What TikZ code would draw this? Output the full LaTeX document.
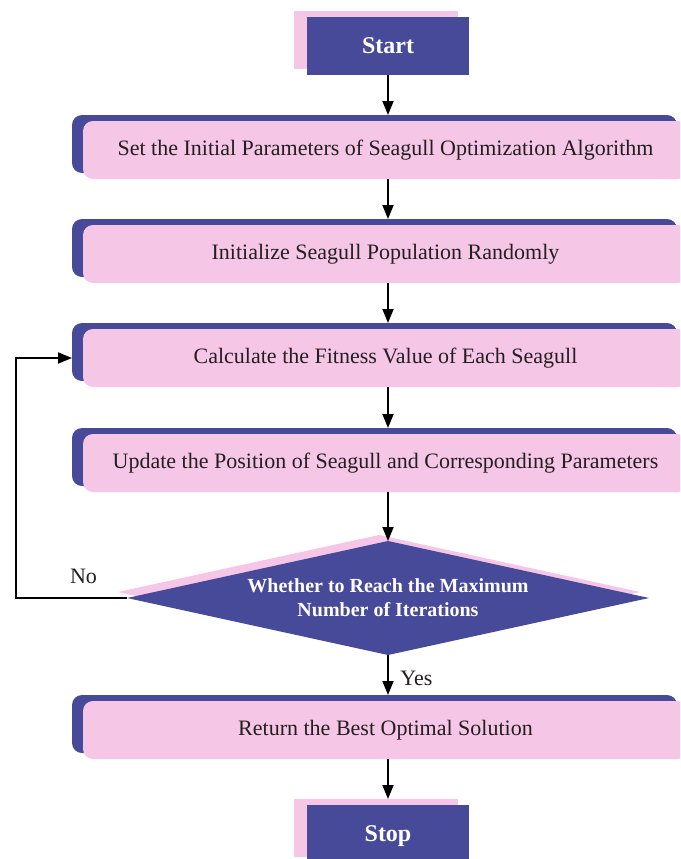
\documentclass[tikz,border=0pt]{standalone}
\usepackage{fontspec}
\setmainfont{Liberation Serif}
\usetikzlibrary{shapes.geometric,arrows.meta,calc}
\definecolor{sblue}{RGB}{71,74,152}
\definecolor{spink}{RGB}{246,198,230}
\definecolor{stext}{RGB}{35,31,32}
\begin{document}
\begin{tikzpicture}[x=1pt,y=-1pt,
  procfront/.style={fill=spink, rounded corners=10pt, minimum width=605pt, minimum height=58pt, inner sep=0pt, outer sep=0pt, text=stext, font=\fontsize{22}{26}\selectfont},
  procback/.style={fill=sblue, rounded corners=10pt, minimum width=605pt, minimum height=58pt, inner sep=0pt, outer sep=0pt},
  termfront/.style={fill=sblue, minimum width=162pt, minimum height=58pt, inner sep=0pt, outer sep=0pt, text=white, font=\fontsize{24}{28}\selectfont\bfseries, text depth=0pt},
  termback/.style={fill=spink, minimum width=164pt, minimum height=58pt, inner sep=0pt, outer sep=0pt},
  decshape/.style={diamond, minimum width=522pt, minimum height=114pt, inner sep=0pt, outer sep=0pt},
  flow/.style={line width=1.8pt, -{Triangle[length=14pt,width=11pt]}},
  lbl/.style={font=\fontsize{22}{26}\selectfont, text=stext, inner sep=0pt, anchor=base}
]
\useasboundingbox (0,0) rectangle (680,859);
\clip (0,0) rectangle (680,859);

\node[termback] (startbg) at (376,40) {};
\node[termfront] (start) at (388,46) {Start};

\node[procback] (b1bg) at (374.5,144) {};
\node[procfront] (b1) at (385.5,150) {Set the Initial Parameters of Seagull Optimization Algorithm};

\node[procback] (b2bg) at (374.5,248) {};
\node[procfront] (b2) at (385.5,254) {Initialize Seagull Population Randomly};

\node[procback] (b3bg) at (374.5,352) {};
\node[procfront] (b3) at (385.5,358) {Calculate the Fitness Value of Each Seagull};

\node[procback] (b4bg) at (374.5,457) {};
\node[procfront] (b4) at (385.5,463) {Update the Position of Seagull and Corresponding Parameters};

\node[decshape, fill=spink] (decbg) at (379,592) {};
\node[decshape, fill=sblue] (dec) at (388,598) {};
\node[text=white, font=\fontsize{20}{24}\selectfont\bfseries, align=center, inner sep=0pt] (dectext) at (dec.center) {Whether to Reach the Maximum\\Number of Iterations};

\node[procback] (b5bg) at (374.5,724) {};
\node[procfront] (b5) at (385.5,730) {Return the Best Optimal Solution};

\node[termback] (stopbg) at (376,828) {};
\node[termfront] (stop) at (388,834) {Stop};

\draw[flow] (start.south) -- (start.south |- b1bg.north);
\draw[flow] (start.south |- b1.south) -- (start.south |- b2bg.north);
\draw[flow] (start.south |- b2.south) -- (start.south |- b3bg.north);
\draw[flow] (start.south |- b3.south) -- (start.south |- b4bg.north);
\draw[flow] (start.south |- b4.south) -- (dec.north);
\draw[flow] (dec.south) -- (start.south |- b5bg.north);
\draw[flow] (start.south |- b5.south) -- (start.south |- stopbg.north);
\draw[flow] (dec.west) -- ++(-111,0) |- (b3bg.west |- b3.west);

\node[lbl] (no) at (83.5,583) {No};
\node[lbl] (yes) at (416.5,685) {Yes};
\end{tikzpicture}
\end{document}
